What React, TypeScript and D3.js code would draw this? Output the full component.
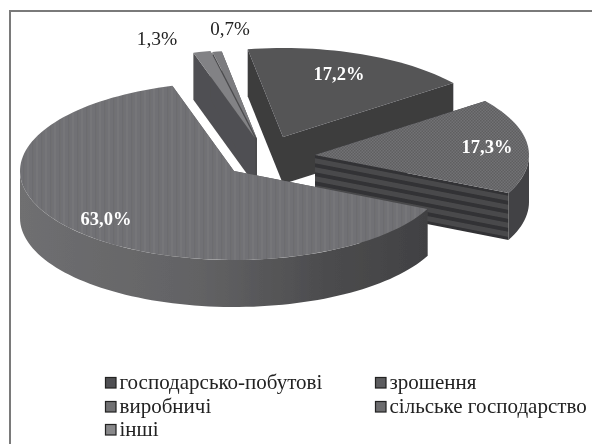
import React from "react";
import * as d3 from "d3";

const categories = ["господарсько-побутові", "зрошення", "виробничі", "сільське господарство", "інші"];
const shares = [17.2, 17.3, 63.0, 1.3, 0.7];
const labels = ["17,2%", "17,3%", "63,0%", "1,3%", "0,7%"];

const W = 592, H = 444, RX = 214, RY = 89, DEPTH = 47;
const rad = (d: number) => (d * Math.PI) / 180;
const centers: [number, number][] = [[283, 137], [315, 155], [234, 171], [255, 138], [257, 139]];
const labelAt: [number, number, string, string, number][] = [
  [339, 80, "#fff", "bold", 18.5], [487, 153, "#fff", "bold", 18.5], [106, 225, "#fff", "bold", 18.5],
  [157, 45, "#222", "normal", 19.5], [230, 35, "#222", "normal", 19],
];
const tops = ["#545456", "url(#check)", "url(#vstripe)", "#828285", "#7c7c7f"];
const rims = ["#3c3c3e", "url(#hstripe)", "url(#bigRim)", "#505052", "#4c4c4e"];
const outerRims = ["#3c3c3e", "#424244", "url(#bigRim)", "#505052", "#4c4c4e"];
const legendFill = ["#505052", "#5c5c5e", "#707072", "#6c6c6e", "#88888a"];
const legendCells: [number, number][] = [[105, 389], [375, 389], [105, 413], [375, 413], [105, 436]];
const drawOrder = [4, 3, 0, 1, 2];

const START = rad(-9.5);
const arcs = d3.pie<number>().sort(null).startAngle(START).endAngle(START + 2 * Math.PI)(shares);
const line = d3.line();

function pt(i: number, a: number, dy = 0): [number, number] {
  return [centers[i][0] + RX * Math.sin(a), centers[i][1] - RY * Math.cos(a) + dy];
}
function samples(a0: number, a1: number) {
  const n = Math.max(2, Math.ceil((a1 - a0) / rad(2)));
  return d3.range(n + 1).map((k) => a0 + ((a1 - a0) * k) / n);
}

function Slice({ i }: { i: number }) {
  const { startAngle: a0, endAngle: a1 } = arcs[i];
  const c = centers[i];
  const top = line([c, ...samples(a0, a1).map((a) => pt(i, a))]) + "Z";
  const wall = (a: number) =>
    line([c, pt(i, a), pt(i, a, DEPTH), [c[0], c[1] + DEPTH]]) + "Z";
  const lo = Math.max(a0, Math.PI / 2), hi = Math.min(a1, (3 * Math.PI) / 2);
  const rim = hi > lo
    ? line([...samples(lo, hi).map((a) => pt(i, a)), ...samples(lo, hi).reverse().map((a) => pt(i, a, DEPTH))]) + "Z"
    : null;
  return (
    <g>
      <path d={wall(a0)} fill={rims[i]} />
      <path d={wall(a1)} fill={rims[i]} />
      {rim && <path d={rim} fill={outerRims[i]} />}
      <path d={top} fill={tops[i]} />
    </g>
  );
}

export default function App() {
  return (
    <svg width={W} height={H} viewBox={`0 0 ${W} ${H}`} style={{ position: "absolute", left: 0, top: 0, background: "#fff" }}
      fontFamily="'Liberation Serif', serif">
      <defs>
        <filter id="soft" x="-5%" y="-5%" width="110%" height="110%"><feGaussianBlur stdDeviation="0.5" /></filter>
        <pattern id="vstripe" width="9" height="10" patternUnits="userSpaceOnUse">
          <rect width="9" height="10" fill="#717174" />
          <rect x="0" width="2" height="10" fill="#767679" />
          <rect x="5" width="1.5" height="10" fill="#6c6c6f" />
        </pattern>
        <pattern id="check" width="3" height="3" patternUnits="userSpaceOnUse">
          <rect width="3" height="3" fill="#727275" />
          <rect width="1.5" height="1.5" fill="#5e5e61" />
          <rect x="1.5" y="1.5" width="1.5" height="1.5" fill="#5e5e61" />
        </pattern>
        <pattern id="hstripe" width="20" height="9" patternUnits="userSpaceOnUse" patternTransform="skewY(11) translate(0,3)">
          <rect width="20" height="9" fill="#4a4a4c" />
          <rect width="20" height="4" fill="#323234" />
        </pattern>
        <linearGradient id="bigRim" gradientUnits="userSpaceOnUse" x1="20" x2="426" y1="0" y2="0">
          <stop offset="0" stopColor="#6f6f71" />
          <stop offset="0.45" stopColor="#626264" />
          <stop offset="0.75" stopColor="#4c4c4e" />
          <stop offset="1" stopColor="#414143" />
        </linearGradient>
      </defs>
      <rect x="10" y="11" width="600" height="460" fill="none" stroke="#7a7a7a" strokeWidth="2" />
      <g filter="url(#soft)">
        {drawOrder.map((i) => <Slice key={i} i={i} />)}
      </g>
      <g filter="url(#soft)">
        {labels.map((t, i) => (
          <text key={t} x={labelAt[i][0]} y={labelAt[i][1]} textAnchor="middle" fill={labelAt[i][2]}
            fontWeight={labelAt[i][3]} fontSize={labelAt[i][4]}>{t}</text>
        ))}
        {categories.map((t, i) => (
          <g key={t}>
            <rect x={legendCells[i][0] + 0.5} y={legendCells[i][1] - 11.5} width={10.5} height={10.5}
              fill={legendFill[i]} stroke="#222" strokeWidth="1.2" />
            <text x={legendCells[i][0] + 14.5} y={legendCells[i][1]} fontSize={21} fill="#222">{t}</text>
          </g>
        ))}
      </g>
    </svg>
  );
}
